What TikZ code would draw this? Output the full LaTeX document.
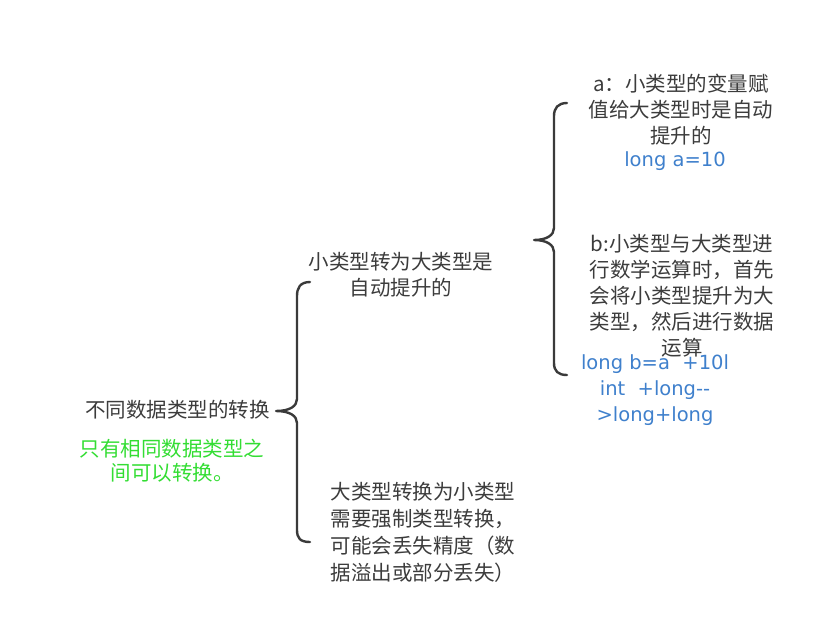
\documentclass[tikz,border=0pt]{standalone}
\usepackage{fontspec}
\setmainfont{Noto Sans CJK SC}
\newfontfamily\latinfont{DejaVu Sans}
\definecolor{txt}{HTML}{3C3C3C}
\definecolor{brc}{HTML}{3A3A3A}
\definecolor{bluet}{HTML}{3F80CC}
\definecolor{greent}{HTML}{33DD33}
\begin{document}
\begin{tikzpicture}[x=1pt,y=-1pt,
  lbl/.style={inner sep=0pt,align=center,text=txt,font=\fontsize{20.5}{26}\selectfont},
  code/.style={inner sep=0pt,align=center,text=bluet,font=\latinfont\fontsize{19.5}{26}\selectfont},
  brace/.style={draw=brc,line width=2.4pt,line cap=round,line join=round}]
\useasboundingbox (0,0) rectangle (830,619);
% root
\node[lbl,anchor=east] (root) at (270,410) {不同数据类型的转换};
\node[lbl,text=greent,font=\fontsize{20.5}{24}\selectfont] (note) at (172,461) {只有相同数据类型之\\间可以转换。};
% left brace
\coordinate (lt) at (310,282);
\coordinate (lm) at (276,411);
\coordinate (lb) at (310,542);
\draw[brace] (lt) .. controls (300,282) and (297,288) .. (297,296) -- (297,399)
  .. controls (297,406) and (290,411) .. (lm)
  .. controls (290,411) and (297,416) .. (297,423) -- (297,530)
  .. controls (297,538) and (300,542) .. (lb);
% children
\node[lbl] (small) at (401,275) {小类型转为大类型是\\自动提升的};
\node[lbl,align=left,font=\fontsize{20.5}{27}\selectfont] (big) at (423,532) {大类型转换为小类型\\需要强制类型转换，\\可能会丢失精度（数\\据溢出或部分丢失）};
% right brace
\coordinate (rt) at (567,103);
\coordinate (rm) at (534,240);
\coordinate (rb) at (567,375);
\draw[brace] (rt) .. controls (558,103) and (554,108) .. (554,116) -- (554,228)
  .. controls (554,235) and (547,240) .. (rm)
  .. controls (547,240) and (554,245) .. (554,252) -- (554,363)
  .. controls (554,371) and (558,375) .. (rb);
% leaves
\node[lbl] (a) at (681,110) {a：小类型的变量赋\\值给大类型时是自动\\提升的};
\node[code] (acode) at (675,161) {long a=10};
\node[lbl] (b) at (682,296) {b:小类型与大类型进\\行数学运算时，首先\\会将小类型提升为大\\类型，然后进行数据\\运算};
\node[code] (bcode) at (655,390) {long b=a\ \ +10l\\int\ \ +long-{}-\\>long+long};
\end{tikzpicture}
\end{document}
